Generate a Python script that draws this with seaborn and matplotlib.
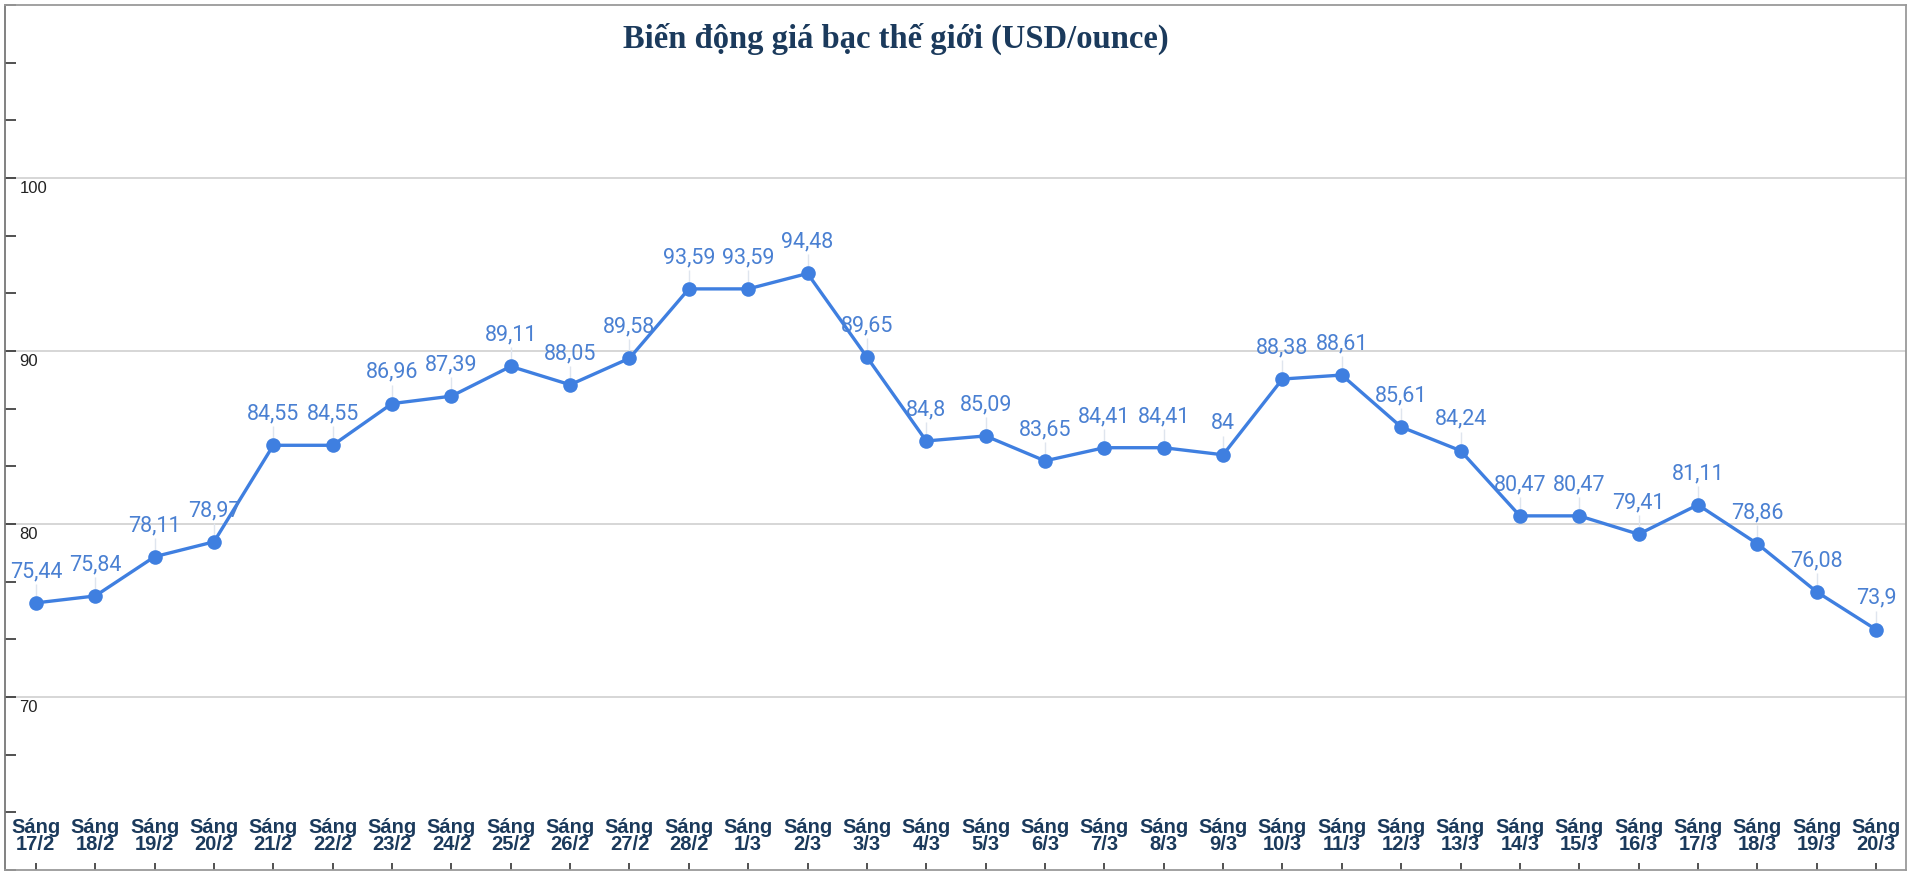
import matplotlib
matplotlib.use("Agg")
import matplotlib.pyplot as plt
import matplotlib.transforms as mtransforms
from matplotlib.ticker import FixedLocator
import seaborn as sns
import pandas as pd

# ---- data ----
dates = ["17/2", "18/2", "19/2", "20/2", "21/2", "22/2", "23/2", "24/2", "25/2", "26/2",
         "27/2", "28/2", "1/3", "2/3", "3/3", "4/3", "5/3", "6/3", "7/3", "8/3",
         "9/3", "10/3", "11/3", "12/3", "13/3", "14/3", "15/3", "16/3", "17/3", "18/3",
         "19/3", "20/3"]
prices = [75.44, 75.84, 78.11, 78.97, 84.55, 84.55, 86.96, 87.39, 89.11, 88.05,
          89.58, 93.59, 93.59, 94.48, 89.65, 84.8, 85.09, 83.65, 84.41, 84.41,
          84, 88.38, 88.61, 85.61, 84.24, 80.47, 80.47, 79.41, 81.11, 78.86,
          76.08, 73.9]
tick_labels = ["Sáng\n" + d for d in dates]
y_ticks = [70, 80, 90, 100]
title = "Biến động giá bạc thế giới (USD/ounce)"

df = pd.DataFrame({"idx": range(len(dates)), "price": prices})

sns.set_theme(style="white")
plt.rcParams['font.family'] = ['Liberation Sans', 'DejaVu Sans']

line_color = "#3f7fe0"
label_color = "#4a80d2"
navy = "#1b3a5c"

fig = plt.figure(figsize=(19.11, 8.74), dpi=100)
ax = fig.add_axes([5 / 1911, 1 - 870 / 874, 1901 / 1911, 865 / 874])

# grid lines
for v in y_ticks:
    ax.axhline(v, color="#cfcfcf", lw=1.2, zorder=0)

sns.lineplot(data=df, x="idx", y="price", ax=ax, color=line_color, lw=2.4,
             marker="o", markersize=10.5, markeredgewidth=0, markerfacecolor=line_color,
             zorder=3)

# leader lines + data labels
ax.vlines(df["idx"], df["price"] + 0.4, df["price"] + 1.1, color="#dfe5ee", lw=1, zorder=2)
for i, v in zip(df["idx"], df["price"]):
    txt = f"{v:g}".replace(".", ",")
    ax.annotate(txt, xy=(i, v), xytext=(0, 22.5), textcoords="offset points",
                ha="center", va="center", fontsize=15.5, color=label_color,
                family=["Roboto", "DejaVu Sans"], zorder=4)

ax.set_xlim(-0.52, len(dates) - 0.495)
ax.set_ylim(60, 110)

# x ticks inside, labels above
ax.set_xticks(range(len(dates)))
ax.set_xticklabels(tick_labels, fontsize=14.5, fontweight="bold", color=navy, linespacing=0.85)
for t in ax.get_xticklabels():
    t.set_va("bottom")
ax.tick_params(axis="x", direction="in", length=5, width=1.2, color="#333333", pad=-11.5, bottom=True)

# y: dark minor marks on left spine, labels inside under gridlines
ax.set_yticks([])
ax.yaxis.set_minor_locator(FixedLocator([60 + k * 10 / 3 for k in range(16)]))
ax.tick_params(axis="y", which="minor", direction="in", length=8, width=1.2, color="#333333", left=True)
trans = mtransforms.blended_transform_factory(ax.transAxes, ax.transData)
for v in y_ticks:
    ax.annotate(str(v), xy=(0, v), xycoords=trans, xytext=(10.5, -2.5), textcoords="offset points",
                ha="left", va="top", fontsize=12, color="#222222")

ax.set_xlabel("")
ax.set_ylabel("")
for side, s in ax.spines.items():
    s.set_visible(True)
    s.set_linewidth(1.3)
    s.set_color("#9a9a9a")
ax.spines["left"].set_color("#777777")

fig.text(896 / 1911, 1 - 39 / 874, title, ha="center", va="center", fontsize=23.5,
         fontweight="bold", color=navy, family=["Liberation Serif", "DejaVu Serif"])

fig.savefig("out.png", dpi=100, facecolor="white")
